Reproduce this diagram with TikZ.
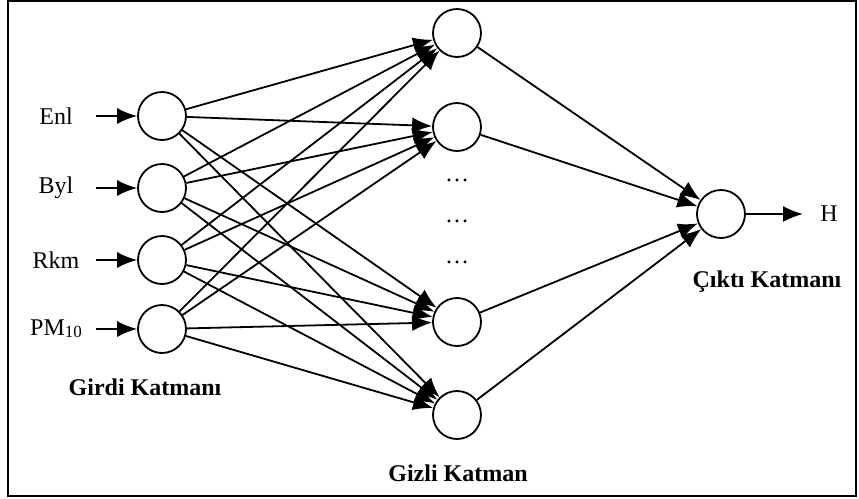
\documentclass[tikz,border=0pt]{standalone}
\usepackage{fontspec}
\setmainfont{Liberation Serif}
\usetikzlibrary{arrows.meta}
\begin{document}
\begin{tikzpicture}[x=0.5pt,y=-0.5pt,
  neuron/.style={circle,draw,line width=0.9pt,minimum size=24pt,inner sep=0pt},
  link/.style={line width=0.9pt,-{Latex[length=10pt,width=8pt]}},
  layerlabel/.style={font=\bfseries\fontsize{12}{14}\selectfont},
  inlabel/.style={font=\fontsize{12}{14}\selectfont}]
\useasboundingbox (0,0) rectangle (859,499);
\draw[line width=1pt] (8,1) rectangle (856,496);

% input layer
\foreach \i/\y in {1/116,2/188,3/260,4/329}{
  \node[neuron] (in\i) at (162,\y) {};
  \coordinate (src\i) at (96,\y);
  \draw[link] (src\i) -- (in\i);
}
\node[inlabel] (l1) at (56,116) {Enl};
\node[inlabel] (l2) at (56,188) {Byl};
\node[inlabel] (l3) at (56,260) {Rkm};
\node[inlabel] (l4) at (56,329) {PM\raisebox{-1pt}{\fontsize{8.5}{9}\selectfont 10}};

% hidden layer
\foreach \j/\y in {1/33,2/127,3/322,4/415}{
  \node[neuron] (h\j) at (457,\y) {};
}
\foreach \k/\y in {1/180,2/221,3/262}{
  \node[inlabel] (dots\k) at (457,\y) {\dots};
}

% output layer
\node[neuron] (out) at (721,214) {};
\coordinate (res) at (803,214);
\draw[link] (out) -- (res);
\node[inlabel] (hl) at (829,214) {H};

% connections
\foreach \i in {1,...,4}{
  \foreach \j in {1,...,4}{
    \draw[link] (in\i) -- (h\j);
  }
}
\foreach \j in {1,...,4}{
  \draw[link] (h\j) -- (out);
}

% layer titles
\node[layerlabel] (t1) at (145,387) {Girdi Katmanı};
\node[layerlabel] (t2) at (458,473) {Gizli Katman};
\node[layerlabel] (t3) at (767,282) {Çıktı Katmanı};
\end{tikzpicture}
\end{document}
